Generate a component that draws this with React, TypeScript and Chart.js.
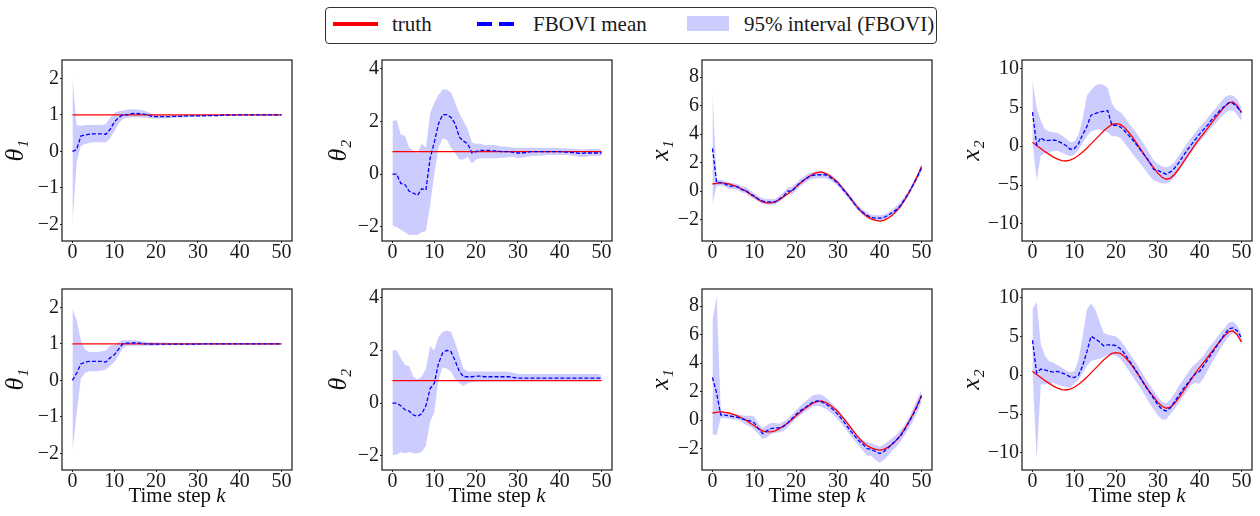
import React, { useEffect, useRef } from "react";
import { Chart, registerables } from "chart.js";

Chart.register(...registerables);

const FONT = '"Liberation Serif", "DejaVu Serif", serif';

// ---------------- data ----------------
const K = [0, 1, 2, 3, 4, 5, 6, 7, 8, 9, 10, 11, 12, 13, 14, 15, 16, 17, 18, 19, 20, 21, 22, 23, 24, 25, 26, 27, 28, 29, 30, 31, 32, 33, 34, 35, 36, 37, 38, 39, 40, 41, 42, 43, 44, 45, 46, 47, 48, 49, 50];
const K_ENDS = [0, 50];
const X_TICKS = [0, 10, 20, 30, 40, 50];
const X_TITLE_TEXT = "Time step ";
const X_TITLE_VAR = "k";

const TH1_TICKS = [-2, -1, 0, 1, 2];
const TH2_TICKS = [-2, 0, 2, 4];
const X1_TICKS = [-2, 0, 2, 4, 6, 8];
const X2_TICKS = [-10, -5, 0, 5, 10];

const TH1_TRUTH = [1, 1];
const TH2_TRUTH = [0.85, 0.85];

const X1_TRUTH = [0.5, 0.55, 0.6, 0.55, 0.5, 0.4, 0.3, 0.15, 0.0, -0.2, -0.4, -0.6, -0.75, -0.82, -0.82, -0.75, -0.6, -0.4, -0.2, 0.05, 0.3, 0.55, 0.8, 1.0, 1.2, 1.3, 1.35, 1.25, 1.1, 0.85, 0.6, 0.25, -0.1, -0.5, -0.9, -1.25, -1.55, -1.8, -1.95, -2.05, -2.1, -2.05, -1.9, -1.7, -1.4, -1.05, -0.6, -0.1, 0.45, 1.05, 1.75];
const X2_TRUTH = [0.5, 0.1, -0.3, -0.7, -1.05, -1.4, -1.65, -1.85, -1.9, -1.8, -1.55, -1.2, -0.75, -0.25, 0.3, 0.85, 1.4, 1.95, 2.4, 2.8, 2.9, 2.8, 2.4, 1.8, 1.1, 0.3, -0.5, -1.3, -2.1, -2.8, -3.5, -4.0, -4.25, -4.1, -3.6, -2.9, -2.1, -1.3, -0.5, 0.3, 1.0, 1.7, 2.4, 3.1, 3.8, 4.5, 5.1, 5.6, 5.7, 5.2, 4.3];

// top row
const TH1_MEAN_A = [0.0, 0.05, 0.42, 0.45, 0.47, 0.48, 0.48, 0.48, 0.47, 0.6, 0.8, 0.92, 1.0, 1.0, 1.03, 1.04, 1.03, 1.02, 1.0, 0.96, 0.95, 0.95, 0.95, 0.95, 0.96, 0.96, 0.96, 0.97, 0.97, 0.97, 0.97, 0.97, 0.98, 0.98, 0.98, 0.98, 0.99, 0.99, 0.99, 0.99, 1.0, 1.0, 1.0, 1.0, 1.0, 1.0, 1.0, 1.0, 1.0, 1.0, 1.0];
const TH1_HI_A = [2.0, 0.72, 0.7, 0.72, 0.72, 0.72, 0.72, 0.72, 0.75, 0.92, 1.05, 1.1, 1.12, 1.14, 1.15, 1.15, 1.14, 1.12, 1.08, 1.03, 1.0, 1.0, 0.99, 0.99, 0.99, 0.99, 0.99, 0.99, 0.99, 0.99, 0.99, 0.99, 1.0, 1.0, 1.0, 1.0, 1.01, 1.01, 1.01, 1.01, 1.02, 1.02, 1.02, 1.02, 1.02, 1.02, 1.02, 1.02, 1.02, 1.02, 1.02];
const TH1_LO_A = [-2.0, -0.3, 0.15, 0.2, 0.23, 0.25, 0.25, 0.25, 0.25, 0.35, 0.55, 0.75, 0.88, 0.92, 0.93, 0.93, 0.93, 0.93, 0.92, 0.9, 0.9, 0.9, 0.91, 0.91, 0.92, 0.92, 0.93, 0.93, 0.94, 0.94, 0.95, 0.95, 0.95, 0.96, 0.96, 0.96, 0.97, 0.97, 0.97, 0.98, 0.98, 0.98, 0.98, 0.98, 0.98, 0.98, 0.98, 0.98, 0.98, 0.98, 0.98];

const TH2_MEAN_A = [0, 0, -0.35, -0.4, -0.65, -0.72, -0.8, -0.55, -0.6, 0.6, 1.2, 1.9, 2.25, 2.25, 2.15, 1.9, 1.4, 1.25, 1.15, 0.8, 0.85, 0.9, 0.9, 0.9, 0.88, 0.88, 0.85, 0.85, 0.85, 0.82, 0.8, 0.8, 0.82, 0.85, 0.85, 0.85, 0.85, 0.85, 0.85, 0.85, 0.85, 0.83, 0.83, 0.82, 0.8, 0.78, 0.8, 0.8, 0.8, 0.8, 0.8];
const TH2_HI_A = [2.0, 2.05, 1.5, 1.45, 1.0, 0.9, 0.8, 1.15, 1.0, 2.3, 2.7, 3.0, 3.2, 3.2, 3.1, 2.7, 2.3, 2.0, 1.7, 1.2, 1.15, 1.15, 1.1, 1.1, 1.1, 1.08, 1.05, 1.05, 1.02, 1.0, 1.0, 1.0, 1.0, 1.0, 1.0, 1.0, 1.0, 1.0, 1.0, 1.0, 0.98, 0.98, 0.97, 0.96, 0.95, 0.93, 0.93, 0.95, 0.95, 0.95, 0.93];
const TH2_LO_A = [-1.95, -2.0, -2.1, -2.2, -2.3, -2.3, -2.3, -2.2, -2.15, -1.2, 0.0, 1.0, 1.35, 1.3, 1.0, 0.8, 0.55, 0.55, 0.65, 0.4, 0.55, 0.6, 0.6, 0.6, 0.6, 0.6, 0.62, 0.62, 0.65, 0.65, 0.6, 0.62, 0.65, 0.68, 0.7, 0.7, 0.7, 0.72, 0.72, 0.72, 0.72, 0.72, 0.72, 0.7, 0.68, 0.65, 0.65, 0.68, 0.7, 0.7, 0.7];

const X1_MEAN_A = [3.0, 0.6, 0.6, 0.5, 0.35, 0.35, 0.3, 0.1, 0.05, -0.2, -0.35, -0.55, -0.7, -0.75, -0.75, -0.75, -0.55, -0.35, 0.0, 0.0, 0.3, 0.6, 0.8, 1.0, 1.1, 1.15, 1.15, 1.15, 1.0, 0.8, 0.55, 0.2, -0.15, -0.5, -0.9, -1.25, -1.5, -1.7, -1.85, -1.9, -1.9, -1.85, -1.7, -1.5, -1.3, -1.0, -0.55, -0.1, 0.45, 1.0, 1.6];
const X1_HI_A = [7.0, 0.8, 0.8, 0.7, 0.6, 0.55, 0.5, 0.35, 0.3, 0.05, -0.15, -0.35, -0.5, -0.55, -0.55, -0.55, -0.35, -0.1, 0.25, 0.3, 0.55, 0.85, 1.05, 1.25, 1.35, 1.4, 1.4, 1.35, 1.2, 1.0, 0.75, 0.4, 0.05, -0.3, -0.7, -1.05, -1.3, -1.5, -1.65, -1.7, -1.7, -1.65, -1.5, -1.3, -1.05, -0.75, -0.35, 0.1, 0.65, 1.2, 1.85];
const X1_LO_A = [-0.9, 0.35, 0.4, 0.3, 0.15, 0.15, 0.1, -0.1, -0.15, -0.4, -0.55, -0.75, -0.9, -0.95, -0.95, -0.95, -0.75, -0.55, -0.2, -0.25, 0.05, 0.35, 0.55, 0.75, 0.85, 0.9, 0.9, 0.9, 0.8, 0.6, 0.35, 0.0, -0.35, -0.7, -1.1, -1.45, -1.7, -1.9, -2.05, -2.1, -2.1, -2.05, -1.9, -1.7, -1.5, -1.2, -0.75, -0.3, 0.25, 0.8, 1.4];

const X2_MEAN_A = [4.4, 0.2, 1.1, 0.7, 0.75, 0.8, 0.7, 0.4, 0.1, -0.4, -0.3, 0.3, 1.5, 2.5, 4.0, 4.2, 4.4, 4.5, 4.6, 2.7, 2.7, 2.5, 2.0, 1.4, 0.8, 0.1, -0.6, -1.3, -2.0, -3.0, -3.1, -3.4, -3.6, -3.3, -2.8, -2.1, -1.3, -0.5, 0.2, 0.9, 1.6, 2.2, 2.8, 3.5, 4.1, 4.7, 5.2, 5.6, 5.5, 5.0, 4.4];
const X2_HI_A = [8.5, 5.0, 3.3, 2.2, 1.9, 1.8, 1.7, 1.4, 1.0, 0.5, 0.6, 1.5, 3.5, 6.5, 7.2, 7.8, 8.0, 7.9, 7.5, 5.5, 4.7, 4.4, 3.8, 3.0, 2.3, 1.6, 0.8, 0.0, -0.9, -1.8, -2.3, -2.6, -2.7, -2.5, -2.0, -1.2, -0.4, 0.4, 1.1, 1.8, 2.5, 3.1, 3.7, 4.4, 5.0, 5.7, 6.3, 6.6, 6.5, 6.0, 5.0];
const X2_LO_A = [0.5, -4.4, -1.2, -0.9, -0.8, -0.6, -0.6, -0.8, -1.1, -1.3, -1.1, -0.5, 0.4, 1.3, 1.9, 2.1, 2.2, 2.0, 1.8, 1.3, 1.3, 1.1, 0.4, -0.3, -1.0, -1.7, -2.4, -3.1, -3.8, -4.4, -4.6, -4.8, -4.8, -4.5, -4.0, -3.2, -2.4, -1.6, -0.8, -0.1, 0.6, 1.2, 1.9, 2.5, 3.1, 3.7, 4.2, 4.6, 4.6, 4.0, 3.2];

// bottom row
const TH1_MEAN_B = [0.0, 0.2, 0.45, 0.5, 0.52, 0.52, 0.52, 0.52, 0.5, 0.62, 0.7, 0.85, 1.0, 1.02, 1.02, 1.03, 1.02, 1.0, 1.0, 0.99, 0.99, 0.99, 0.99, 0.99, 0.99, 0.99, 0.99, 0.99, 0.99, 0.99, 0.99, 1.0, 1.0, 1.0, 1.0, 1.0, 1.0, 1.0, 1.0, 1.0, 1.0, 1.0, 1.0, 1.0, 1.0, 1.0, 1.0, 1.0, 1.0, 1.0, 1.0];
const TH1_HI_B = [1.95, 1.65, 1.1, 0.85, 0.78, 0.78, 0.78, 0.8, 0.82, 0.95, 0.97, 1.05, 1.1, 1.1, 1.1, 1.1, 1.08, 1.07, 1.05, 1.05, 1.04, 1.04, 1.04, 1.03, 1.03, 1.03, 1.03, 1.03, 1.03, 1.03, 1.02, 1.02, 1.02, 1.02, 1.02, 1.02, 1.02, 1.02, 1.02, 1.02, 1.02, 1.02, 1.02, 1.02, 1.02, 1.02, 1.02, 1.02, 1.02, 1.02, 1.02];
const TH1_LO_B = [-1.95, -0.9, 0.05, 0.2, 0.25, 0.25, 0.25, 0.27, 0.3, 0.4, 0.5, 0.68, 0.88, 0.94, 0.95, 0.95, 0.95, 0.95, 0.95, 0.95, 0.95, 0.96, 0.96, 0.96, 0.96, 0.96, 0.96, 0.96, 0.96, 0.96, 0.96, 0.97, 0.97, 0.97, 0.97, 0.97, 0.97, 0.97, 0.97, 0.97, 0.97, 0.97, 0.97, 0.97, 0.97, 0.97, 0.97, 0.97, 0.97, 0.97, 0.97];

const TH2_MEAN_B = [0, 0, -0.1, -0.25, -0.3, -0.45, -0.5, -0.4, -0.1, 0.55, 0.75, 1.5, 1.9, 2.0, 1.95, 1.6, 1.2, 1.0, 1.0, 1.0, 1.02, 1.02, 1.0, 1.0, 1.0, 1.0, 1.0, 1.0, 1.0, 0.97, 0.95, 0.95, 0.95, 0.95, 0.95, 0.95, 0.95, 0.95, 0.95, 0.95, 0.95, 0.95, 0.95, 0.95, 0.95, 0.95, 0.95, 0.95, 0.95, 0.95, 0.95];
const TH2_HI_B = [2.0, 2.0, 1.7, 1.45, 1.4, 1.0, 0.9, 1.0, 1.3, 2.15, 2.0, 2.5, 2.7, 2.75, 2.7, 2.3, 1.8, 1.3, 1.2, 1.2, 1.2, 1.2, 1.2, 1.2, 1.2, 1.2, 1.2, 1.2, 1.18, 1.15, 1.1, 1.1, 1.1, 1.1, 1.1, 1.1, 1.1, 1.1, 1.1, 1.1, 1.1, 1.1, 1.1, 1.1, 1.1, 1.1, 1.1, 1.1, 1.1, 1.1, 1.05];
const TH2_LO_B = [-1.95, -1.95, -1.85, -1.9, -1.85, -1.9, -1.9, -1.85, -1.6, -0.7, -0.35, 0.9, 1.35, 1.3, 1.2, 0.9, 0.75, 0.65, 0.75, 0.8, 0.82, 0.82, 0.82, 0.82, 0.82, 0.82, 0.82, 0.82, 0.82, 0.83, 0.85, 0.85, 0.85, 0.85, 0.85, 0.85, 0.85, 0.85, 0.85, 0.85, 0.85, 0.85, 0.85, 0.85, 0.85, 0.85, 0.85, 0.85, 0.85, 0.85, 0.85];

const X1_MEAN_B = [3.0, 1.9, 0.35, 0.35, 0.3, 0.25, 0.2, 0.1, 0.0, -0.05, -0.2, -0.6, -0.95, -0.75, -0.6, -0.55, -0.55, -0.45, -0.2, 0.1, 0.4, 0.65, 0.85, 1.05, 1.25, 1.35, 1.3, 1.15, 0.95, 0.7, 0.4, 0.05, -0.35, -0.75, -1.1, -1.45, -1.7, -2.0, -2.05, -2.2, -2.35, -2.2, -1.95, -1.65, -1.4, -1.1, -0.65, -0.15, 0.4, 1.0, 1.7];
const X1_HI_B = [7.0, 8.7, 0.6, 0.55, 0.5, 0.45, 0.4, 0.35, 0.3, 0.3, 0.25, -0.25, -0.55, -0.35, -0.2, -0.2, -0.25, -0.1, 0.1, 0.4, 0.7, 1.0, 1.25, 1.5, 1.75, 1.8, 1.8, 1.6, 1.35, 1.05, 0.75, 0.4, 0.0, -0.4, -0.8, -1.15, -1.4, -1.55, -1.6, -1.75, -1.85, -1.7, -1.5, -1.25, -1.0, -0.7, -0.3, 0.2, 0.85, 1.5, 2.1];
const X1_LO_B = [-1.0, -1.05, 0.15, 0.15, 0.1, 0.05, 0.0, -0.1, -0.35, -0.45, -0.65, -1.0, -1.35, -1.2, -1.0, -0.9, -0.85, -0.75, -0.5, -0.2, 0.1, 0.35, 0.55, 0.75, 0.95, 1.0, 0.95, 0.8, 0.6, 0.35, 0.05, -0.3, -0.7, -1.1, -1.45, -1.8, -2.15, -2.5, -2.5, -2.8, -3.0, -2.8, -2.5, -2.15, -1.85, -1.5, -1.05, -0.55, -0.05, 0.55, 1.25];

const X2_MEAN_B = [4.5, 0.3, 0.8, 0.7, 0.5, 0.4, 0.5, 0.3, 0.1, -0.2, -0.3, 0.0, 1.2, 3.0, 5.0, 4.7, 4.3, 3.8, 3.9, 3.9, 3.8, 3.4, 2.8, 2.0, 1.2, 0.4, -0.5, -1.4, -2.2, -3.0, -3.8, -4.4, -4.6, -4.2, -3.4, -2.6, -1.8, -1.1, -0.4, 0.2, 0.5, 1.3, 2.1, 2.9, 3.7, 4.5, 5.3, 6.0, 6.1, 5.7, 4.8];
const X2_HI_B = [8.5, 9.5, 4.0, 2.5, 1.8, 1.6, 1.3, 1.0, 0.6, 0.4, 0.5, 2.0, 5.0, 8.5, 9.2, 8.5, 7.0, 5.5, 5.2, 5.1, 5.0, 4.5, 3.8, 3.0, 2.2, 1.4, 0.5, -0.4, -1.2, -2.0, -2.8, -3.4, -3.6, -3.1, -2.3, -1.4, -0.6, 0.2, 1.0, 1.5, 2.0, 2.6, 3.4, 4.1, 4.8, 5.5, 6.1, 6.8, 6.9, 6.4, 5.3];
const X2_LO_B = [0.5, -10.8, -1.2, -1.2, -1.0, -1.0, -1.2, -1.4, -1.5, -1.6, -1.1, -0.6, 0.3, 1.2, 1.8, 2.0, 2.1, 2.3, 2.6, 2.6, 2.5, 2.1, 1.4, 0.6, -0.2, -1.0, -1.8, -2.7, -3.6, -4.4, -5.2, -5.7, -5.7, -5.0, -4.3, -3.6, -2.8, -2.0, -1.2, -1.0, -1.1, -0.3, 0.7, 1.7, 2.6, 3.5, 4.3, 5.0, 5.4, 5.0, 3.8];

const LEGEND_TRUTH = "truth";
const LEGEND_MEAN = "FBOVI mean";
const LEGEND_BAND = "95% interval (FBOVI)";

// ---------------- layout ----------------
const ROW_TOP = [57, 286];
const PLOT_H = 184;
const COL_LEFT = [62, 382, 702, 1022];
const PLOT_W = 230;
const YLABEL_CX = [17, 340, 662, 973];
const PAD_TOP = 10;
const PAD_RIGHT = 6;
const XAXIS_H = [30, 46];

type Spec = {
  row: number;
  col: number;
  label: string;
  yMin: number;
  yMax: number;
  yTicks: number[];
  truthX: number[];
  truth: number[];
  mean: number[];
  lo: number[];
  hi: number[];
};

const SPECS: Spec[] = [
  { row: 0, col: 0, label: "θ₁", yMin: -2.45, yMax: 2.5, yTicks: TH1_TICKS, truthX: K_ENDS, truth: TH1_TRUTH, mean: TH1_MEAN_A, lo: TH1_LO_A, hi: TH1_HI_A },
  { row: 0, col: 1, label: "θ₂", yMin: -2.53, yMax: 4.32, yTicks: TH2_TICKS, truthX: K_ENDS, truth: TH2_TRUTH, mean: TH2_MEAN_A, lo: TH2_LO_A, hi: TH2_HI_A },
  { row: 0, col: 2, label: "x₁", yMin: -3.5, yMax: 9.2, yTicks: X1_TICKS, truthX: K, truth: X1_TRUTH, mean: X1_MEAN_A, lo: X1_LO_A, hi: X1_HI_A },
  { row: 0, col: 3, label: "x₂", yMin: -12.2, yMax: 11.1, yTicks: X2_TICKS, truthX: K, truth: X2_TRUTH, mean: X2_MEAN_A, lo: X2_LO_A, hi: X2_HI_A },
  { row: 1, col: 0, label: "θ₁", yMin: -2.45, yMax: 2.5, yTicks: TH1_TICKS, truthX: K_ENDS, truth: TH1_TRUTH, mean: TH1_MEAN_B, lo: TH1_LO_B, hi: TH1_HI_B },
  { row: 1, col: 1, label: "θ₂", yMin: -2.53, yMax: 4.32, yTicks: TH2_TICKS, truthX: K_ENDS, truth: TH2_TRUTH, mean: TH2_MEAN_B, lo: TH2_LO_B, hi: TH2_HI_B },
  { row: 1, col: 2, label: "x₁", yMin: -3.5, yMax: 9.2, yTicks: X1_TICKS, truthX: K, truth: X1_TRUTH, mean: X1_MEAN_B, lo: X1_LO_B, hi: X1_HI_B },
  { row: 1, col: 3, label: "x₂", yMin: -12.2, yMax: 11.1, yTicks: X2_TICKS, truthX: K, truth: X2_TRUTH, mean: X2_MEAN_B, lo: X2_LO_B, hi: X2_HI_B },
];

const fmt = (v: number) => (v < 0 ? "\u2212" + Math.abs(v) : String(v));
const pts = (xs: number[], ys: number[]) => xs.map((x, i) => ({ x, y: ys[i] }));

const boxPlugin = {
  id: "box",
  afterDraw(chart: any) {
    const { ctx, chartArea } = chart;
    ctx.save();
    ctx.strokeStyle = "#1a1a1a";
    ctx.lineWidth = 1.2;
    ctx.strokeRect(chartArea.left, chartArea.top, chartArea.right - chartArea.left, chartArea.bottom - chartArea.top);
    ctx.restore();
  },
};

const xTitlePlugin = {
  id: "xTitle",
  afterDraw(chart: any) {
    const { ctx, chartArea } = chart;
    ctx.save();
    ctx.fillStyle = "#111";
    ctx.textBaseline = "alphabetic";
    ctx.textAlign = "left";
    const f1 = `21px ${FONT}`;
    const f2 = `italic 21px ${FONT}`;
    ctx.font = f1;
    const wa = ctx.measureText(X_TITLE_TEXT).width;
    ctx.font = f2;
    const wb = ctx.measureText(X_TITLE_VAR).width;
    const x0 = (chartArea.left + chartArea.right) / 2 - (wa + wb) / 2;
    const y = chartArea.bottom + 32;
    ctx.font = f1;
    ctx.fillText(X_TITLE_TEXT, x0, y);
    ctx.font = f2;
    ctx.fillText(X_TITLE_VAR, x0 + wa, y);
    ctx.restore();
  },
};

function Panel({ spec }: { spec: Spec }) {
  const ref = useRef<HTMLCanvasElement>(null);
  const canvasLeft = Math.round(YLABEL_CX[spec.col] - 15.6);
  const yW = COL_LEFT[spec.col] - canvasLeft;
  const xH = XAXIS_H[spec.row];
  const width = yW + PLOT_W + PAD_RIGHT;
  const height = PAD_TOP + PLOT_H + xH;
  const top = ROW_TOP[spec.row] - PAD_TOP;

  useEffect(() => {
    const tickFont = { family: FONT, size: 20 };
    const chart = new Chart(ref.current as HTMLCanvasElement, {
      type: "line",
      data: {
        datasets: [
          { label: LEGEND_MEAN, data: pts(K, spec.mean), borderColor: "#0000ff", borderWidth: 1.3, borderDash: [4, 2], pointRadius: 0, fill: false, tension: 0 },
          { label: LEGEND_TRUTH, data: pts(spec.truthX, spec.truth), borderColor: "#ff0000", borderWidth: 1.3, pointRadius: 0, fill: false, tension: 0 },
          { label: "lower", data: pts(K, spec.lo), borderColor: "rgba(0,0,0,0)", borderWidth: 0, pointRadius: 0, fill: false },
          { label: LEGEND_BAND, data: pts(K, spec.hi), borderColor: "rgba(0,0,0,0)", borderWidth: 0, pointRadius: 0, fill: 2, backgroundColor: "rgba(0,0,255,0.2)" },
        ],
      } as any,
      options: {
        animation: false,
        responsive: false,
        maintainAspectRatio: false,
        events: [],
        layout: { padding: { top: PAD_TOP, right: PAD_RIGHT, left: 0, bottom: 0 } },
        plugins: { legend: { display: false }, tooltip: { enabled: false } },
        scales: {
          x: {
            type: "linear",
            min: -2.5,
            max: 52.5,
            afterBuildTicks: (s: any) => { s.ticks = X_TICKS.map((v) => ({ value: v })); },
            afterFit: (s: any) => { s.height = xH; },
            grid: { display: true, drawOnChartArea: false, drawTicks: true, tickLength: 2, tickColor: "#222" },
            border: { display: false },
            ticks: { padding: -2, color: "#1a1a1a", font: tickFont, maxRotation: 0, autoSkip: false, callback: (v: any) => fmt(Number(v)) },
          },
          y: {
            type: "linear",
            min: spec.yMin,
            max: spec.yMax,
            afterBuildTicks: (s: any) => { s.ticks = spec.yTicks.map((v) => ({ value: v })); },
            afterFit: (s: any) => { s.width = yW; },
            grid: { display: true, drawOnChartArea: false, drawTicks: true, tickLength: 2, tickColor: "#222" },
            border: { display: false },
            ticks: { padding: 1, color: "#1a1a1a", font: tickFont, autoSkip: false, callback: (v: any) => fmt(Number(v)) },
            title: { display: true, text: spec.label, color: "#111", padding: 0, font: { family: FONT, size: 26, style: "italic" } },
          },
        },
      } as any,
      plugins: spec.row === 1 ? [boxPlugin, xTitlePlugin] : [boxPlugin],
    });
    return () => chart.destroy();
  }, []);

  return (
    <canvas
      ref={ref}
      width={width}
      height={height}
      style={{ position: "absolute", left: canvasLeft, top, width, height }}
    />
  );
}

function Legend() {
  const text: React.CSSProperties = { position: "absolute", top: 6, fontSize: 21, lineHeight: "21px", whiteSpace: "nowrap", color: "#1a1a1a" };
  return (
    <div
      style={{
        position: "absolute",
        left: 325,
        top: 7,
        width: 612,
        height: 37,
        boxSizing: "border-box",
        border: "1px solid #333",
        borderRadius: 4,
        background: "#fff",
        fontFamily: FONT,
      }}
    >
      <div style={{ position: "absolute", left: 7, top: 14, width: 45, height: 4, background: "#ff0000" }} />
      <span style={{ ...text, left: 66 }}>{LEGEND_TRUTH}</span>
      <div style={{ position: "absolute", left: 151, top: 14, width: 15, height: 4, background: "#0000ff" }} />
      <div style={{ position: "absolute", left: 173, top: 14, width: 15, height: 4, background: "#0000ff" }} />
      <span style={{ ...text, left: 207 }}>{LEGEND_MEAN}</span>
      <div style={{ position: "absolute", left: 361, top: 8, width: 42, height: 15, background: "rgba(0,0,255,0.2)" }} />
      <span style={{ ...text, left: 418 }}>{LEGEND_BAND}</span>
    </div>
  );
}

export default function App() {
  return (
    <div style={{ position: "absolute", left: 0, top: 0, width: 1260, height: 516, background: "#fff", overflow: "hidden" }}>
      {SPECS.map((s, i) => (
        <Panel key={i} spec={s} />
      ))}
      <Legend />
    </div>
  );
}
